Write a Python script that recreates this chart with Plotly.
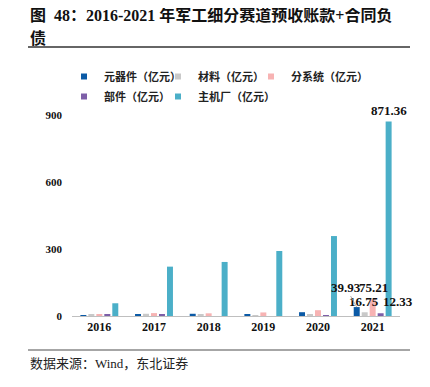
import plotly.graph_objects as go

years = ["2016", "2017", "2018", "2019", "2020", "2021"]
yuanqijian = [4, 8, 10, 7, 17, 39.93]
cailiao = [6, 10, 6, 3, 7, 16.75]
fenxitong = [8, 13, 12, 16, 26, 75.21]
bujian = [6, 8, 0, 0, 3, 12.33]
zhujichang = [57, 221, 242, 291, 358, 871.36]

series = [
    ("元器件（亿元）", yuanqijian, "#0b5aa6"),
    ("材料（亿元）", cailiao, "#c9c9c9"),
    ("分系统（亿元）", fenxitong, "#f7b3b3"),
    ("部件（亿元）", bujian, "#7d5fa8"),
    ("主机厂（亿元）", zhujichang, "#4bafc8"),
]

SERIF = "Liberation Serif, Times New Roman, Noto Sans CJK SC"
CJK = "Noto Sans CJK SC, Liberation Serif"

# page has an 8px body margin; figure is sized to fit the 430x387 window
OFF = 8
W, H = 430 - OFF, 387 - OFF
L, T = 72 - OFF, 115 - OFF
R = W - (400 - OFF)
B = H - (316 - OFF)
PW, PH = W - L - R, H - T - B


def px(x):  # reference-page x -> paper fraction
    return (x - OFF - L) / PW


def py(y):  # reference-page y -> paper fraction
    return (H - B - (y - OFF)) / PH


fig = go.Figure()
for name, vals, col in series:
    fig.add_trace(go.Bar(x=years, y=vals, name=name, marker_color=col,
                         marker_line_width=0, showlegend=False, cliponaxis=False,
                         hoverinfo="x+y+name"))

# legend: one small legend per entry, positioned like the reference
legend_pos = [(85, 72), (179, 72), (272, 72), (85, 92), (179, 92)]
legend_cfg = {}
for i, ((name, vals, col), (mx, my)) in enumerate(zip(series, legend_pos)):
    key = "legend" if i == 0 else f"legend{i + 1}"
    fig.add_trace(go.Scatter(x=years, y=[None] * len(years), mode="markers", name=name,
                             hoverinfo="skip", legend=key,
                             marker=dict(symbol="square", size=6, color=col)))
    legend_cfg[key] = dict(
        orientation="h", xref="container", yref="container",
        x=(mx - 21 - OFF) / W, y=1 - (my - 10 - OFF) / H,
        xanchor="left", yanchor="top", bgcolor="rgba(0,0,0,0)",
        font=dict(family=CJK, size=11, color="#222", weight="bold"),
        itemwidth=30)

# data labels for 2021 (offset as in reference)
i21 = years.index("2021")
labels = [
    (fenxitong[-1], 1, 12),
    (cailiao[-1], -9, 11),
    (bujian[-1], 25, 12),
    (zhujichang[-1], 16, 11),
]
for v, xs, ys in labels:
    fig.add_annotation(x=i21, y=v, text=f"{v:.2f}", showarrow=False,
                       xshift=xs, yshift=ys, yanchor="middle",
                       font=dict(family=SERIF, size=13, color="#111", weight="bold"))
fig.add_annotation(x=i21, y=yuanqijian[-1], text=f"{yuanqijian[-1]:.2f}",
                   showarrow=True, arrowhead=0, arrowwidth=0.8, arrowcolor="#999",
                   xshift=-16, ax=-11, ay=-20, standoff=0,
                   font=dict(family=SERIF, size=13, color="#111", weight="bold"))

fig.update_layout(
    width=W, height=H,
    margin=dict(l=L, r=R, t=T, b=B, autoexpand=False),
    paper_bgcolor="white", plot_bgcolor="white",
    barmode="group", bargap=0.27, bargroupgap=0.25,
    xaxis=dict(type="category", categoryorder="array", categoryarray=years,
               range=[-0.5, len(years) - 0.5],
               showline=True, linecolor="#bfbfbf", linewidth=1,
               ticks="", tickfont=dict(family=SERIF, size=12, color="#111", weight="bold"),
               showgrid=False, fixedrange=True),
    yaxis=dict(range=[0, 900], tickvals=[0, 300, 600, 900], showgrid=False,
               zeroline=False, showline=False, ticks="", ticklabelstandoff=9,
               tickfont=dict(family=SERIF, size=11, color="#111", weight="bold"),
               fixedrange=True),
    font=dict(family=SERIF),
    **legend_cfg,
)

fig.add_annotation(xref="paper", yref="paper", x=px(28), y=py(15),
                   xanchor="left", yanchor="middle", showarrow=False,
                   text="图  48：2016-2021 年军工细分赛道预收账款+合同负",
                   font=dict(family=SERIF, size=16, color="#111", weight="bold"))
fig.add_annotation(xref="paper", yref="paper", x=px(28), y=py(38),
                   xanchor="left", yanchor="middle", showarrow=False,
                   text="债",
                   font=dict(family=SERIF, size=16, color="#111", weight="bold"))
fig.add_annotation(xref="paper", yref="paper", x=px(28), y=py(363),
                   xanchor="left", yanchor="middle", showarrow=False,
                   text="数据来源：Wind，东北证券",
                   font=dict(family=SERIF, size=13, color="#222"))
fig.add_shape(type="line", xref="paper", yref="paper",
              x0=px(28), x1=px(410), y0=py(47), y1=py(47),
              line=dict(color="#333", width=1.5))
fig.add_shape(type="line", xref="paper", yref="paper",
              x0=px(28), x1=px(410), y0=py(350), y1=py(350),
              line=dict(color="#888", width=1.5))

fig.write_html("out.html")
